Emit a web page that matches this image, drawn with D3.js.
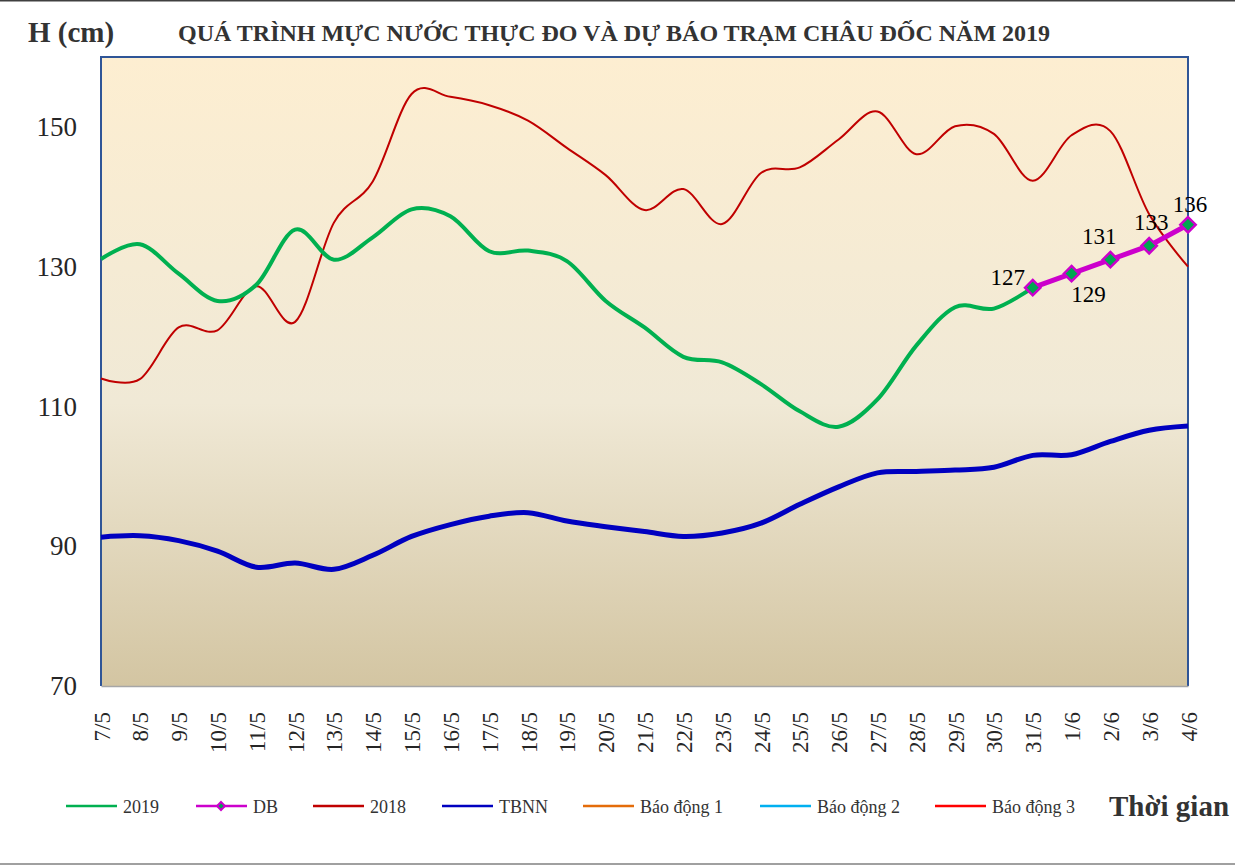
<!DOCTYPE html>
<html>
<head>
<meta charset="utf-8">
<script src="https://cdn.jsdelivr.net/npm/d3@7"></script>
<style>
  body { margin: 0; background: #fff; }
  svg { display: block; font-family: "Liberation Serif", "Times New Roman", serif; }
</style>
</head>
<body>
<svg id="chart" width="1235" height="865"></svg>
<script>
const dates = ['7/5','8/5','9/5','10/5','11/5','12/5','13/5','14/5','15/5','16/5','17/5','18/5','19/5','20/5',
    '21/5','22/5','23/5','24/5','25/5','26/5','27/5','28/5','29/5','30/5','31/5','1/6','2/6','3/6','4/6'];

const h2019 = [131.1, 133.2, 129.0, 125.1, 127.4, 135.3, 131.0, 134.2, 138.2, 137.2, 132.2, 132.3, 130.8, 125.1,
    121.3, 117.1, 116.3, 113.2, 109.3, 107.1, 111.0, 118.7, 124.2, 124.0, 127, null, null, null, null];

const hDB = [null, null, null, null, null, null, null, null, null, null, null, null, null, null,
    null, null, null, null, null, null, null, null, null, null, 127, 129, 131, 133, 136];

const h2018 = [114.0, 113.9, 121.3, 120.9, 127.2, 122.1, 136.3, 142.2, 154.7, 154.3, 153.1, 150.9, 147.0, 143.1,
    138.1, 141.1, 136.1, 143.4, 144.2, 148.2, 152.2, 146.1, 150.1, 149.0, 142.3, 148.8, 149.4, 137.5, 130.0];

const hTBNN = [91.3, 91.5, 90.8, 89.3, 87.0, 87.6, 86.7, 88.7, 91.4, 93.1, 94.3, 94.8, 93.6, 92.8,
    92.1, 91.4, 91.9, 93.3, 96.0, 98.5, 100.5, 100.7, 100.9, 101.3, 103.0, 103.1, 105.0, 106.6, 107.2];

const yTicks = [70, 90, 110, 130, 150];

const legendItems = [
    {name: '2019', color: '#00B050'},
    {name: 'DB', color: '#CC00CC', marker: true},
    {name: '2018', color: '#C00000'},
    {name: 'TBNN', color: '#0000C0'},
    {name: 'Báo động 1', color: '#E46C0A'},
    {name: 'Báo động 2', color: '#00B0F0'},
    {name: 'Báo động 3', color: '#FF0000'}
];

const svg = d3.select('#chart');
const plotLeft = 101, plotRight = 1188, plotTop = 57, plotBottom = 686;

const xScale = d3.scalePoint().domain(dates).range([plotLeft, plotRight]);
const yScale = d3.scaleLinear().domain([70, 160]).range([plotBottom, plotTop]);

// outer frame lines
svg.append('line').attr('x1', 0).attr('x2', 1235).attr('y1', 0.5).attr('y2', 0.5)
    .attr('stroke', '#404040').attr('stroke-width', 2);
svg.append('line').attr('x1', 0).attr('x2', 1235).attr('y1', 864).attr('y2', 864)
    .attr('stroke', '#808080').attr('stroke-width', 1.5);

// plot background
const grad = svg.append('defs').append('linearGradient')
    .attr('id', 'bg').attr('x1', 0).attr('y1', 0).attr('x2', 0).attr('y2', 1);
grad.append('stop').attr('offset', '0%').attr('stop-color', '#FDEED1');
grad.append('stop').attr('offset', '55%').attr('stop-color', '#F0E9D6');
grad.append('stop').attr('offset', '100%').attr('stop-color', '#D3C5A2');

svg.append('rect')
    .attr('x', plotLeft).attr('y', plotTop)
    .attr('width', plotRight - plotLeft).attr('height', plotBottom - plotTop)
    .attr('fill', 'url(#bg)');

svg.append('path')
    .attr('d', `M${plotLeft},${plotBottom}V${plotTop}H${plotRight}V${plotBottom}`)
    .attr('fill', 'none').attr('stroke', '#2F5597').attr('stroke-width', 2);

// axes
const yAxis = d3.axisLeft(yScale).tickValues(yTicks).tickSize(0).tickPadding(24);
const yG = svg.append('g').attr('transform', `translate(${plotLeft},0)`).call(yAxis);
yG.select('.domain').remove();
yG.selectAll('text')
    .style('font-family', '"Liberation Serif", serif')
    .style('font-size', '27px')
    .attr('fill', '#262626');

const xAxis = d3.axisBottom(xScale).tickSize(0);
const xG = svg.append('g').attr('transform', `translate(0,${plotBottom})`).call(xAxis);
xG.select('.domain').attr('stroke', '#A6A6A6').attr('stroke-width', 1.5);
xG.selectAll('text')
    .style('font-family', '"Liberation Serif", serif')
    .style('font-size', '23px')
    .attr('fill', '#262626')
    .attr('text-anchor', 'end')
    .attr('transform', 'translate(0,26) rotate(-90)')
    .attr('x', 0).attr('y', 0).attr('dy', '0.35em');

// series
const lineGen = curve => d3.line()
    .defined(d => d != null)
    .x((d, i) => xScale(dates[i]))
    .y(d => yScale(d))
    .curve(curve);

const smooth = lineGen(d3.curveCardinal.tension(0));
const straight = lineGen(d3.curveLinear);

const drawLine = (values, color, width, gen) => {
    svg.append('path')
        .attr('d', gen(values))
        .attr('fill', 'none')
        .attr('stroke', color)
        .attr('stroke-width', width)
        .attr('stroke-linejoin', 'round');
};

drawLine(h2018, '#C00000', 2, smooth);
drawLine(hTBNN, '#0000C0', 5, smooth);
drawLine(h2019, '#00B050', 4, smooth);
drawLine(hDB, '#CC00CC', 5, straight);

// DB markers + labels
const dbPoints = hDB.map((v, i) => ({v, d: dates[i]})).filter(p => p.v != null);
const diamond = d3.symbol().type(d3.symbolDiamond2).size(150);

svg.selectAll('path.dbMarker')
    .data(dbPoints)
    .enter()
    .append('path')
        .attr('class', 'dbMarker')
        .attr('d', diamond)
        .attr('transform', p => `translate(${xScale(p.d)},${yScale(p.v)})`)
        .attr('fill', '#00A651')
        .attr('stroke', '#CC00CC')
        .attr('stroke-width', 2.5);

//label placement copied by eye: left, below, above, above, above
const labelOffsets = [[-25, -3], [17, 28], [-11, -16], [2, -16], [2, -13]];
svg.selectAll('text.dbLabel')
    .data(dbPoints)
    .enter()
    .append('text')
        .attr('class', 'dbLabel')
        .attr('x', (p, i) => xScale(p.d) + labelOffsets[i][0])
        .attr('y', (p, i) => yScale(p.v) + labelOffsets[i][1])
        .attr('text-anchor', 'middle')
        .style('font-size', '23px')
        .attr('fill', '#000')
        .text(p => p.v);

// titles
svg.append('text')
    .attr('x', 28).attr('y', 42)
    .style('font-size', '29px').style('font-weight', 'bold')
    .attr('fill', '#333')
    .text('H (cm)');

svg.append('text')
    .attr('x', 178).attr('y', 41)
    .attr('textLength', 872).attr('lengthAdjust', 'spacing')
    .style('font-size', '24px').style('font-weight', 'bold')
    .attr('fill', '#333')
    .text('QUÁ TRÌNH MỰC NƯỚC THỰC ĐO VÀ DỰ BÁO TRẠM CHÂU ĐỐC NĂM  2019');

// legend
const legendX = [66, 196, 313, 442, 583, 760, 935];
const legendG = svg.selectAll('g.legendItem')
    .data(legendItems)
    .enter()
    .append('g')
        .attr('class', 'legendItem')
        .attr('transform', (d, i) => `translate(${legendX[i]},806)`);

legendG.append('line')
    .attr('x1', 0).attr('x2', 51)
    .attr('stroke', d => d.color).attr('stroke-width', 2.5);

legendG.filter(d => d.marker)
    .append('path')
        .attr('d', d3.symbol().type(d3.symbolDiamond2).size(40))
        .attr('transform', 'translate(25,0)')
        .attr('fill', '#00A651')
        .attr('stroke', '#CC00CC')
        .attr('stroke-width', 2);

legendG.append('text')
    .attr('x', 57).attr('y', 7)
    .style('font-size', '18px')
    .attr('fill', '#333')
    .text(d => d.name);

svg.append('text')
    .attr('x', 1109).attr('y', 816)
    .style('font-size', '29px').style('font-weight', 'bold')
    .attr('fill', '#333')
    .text('Thời gian');
</script>
</body>
</html>
